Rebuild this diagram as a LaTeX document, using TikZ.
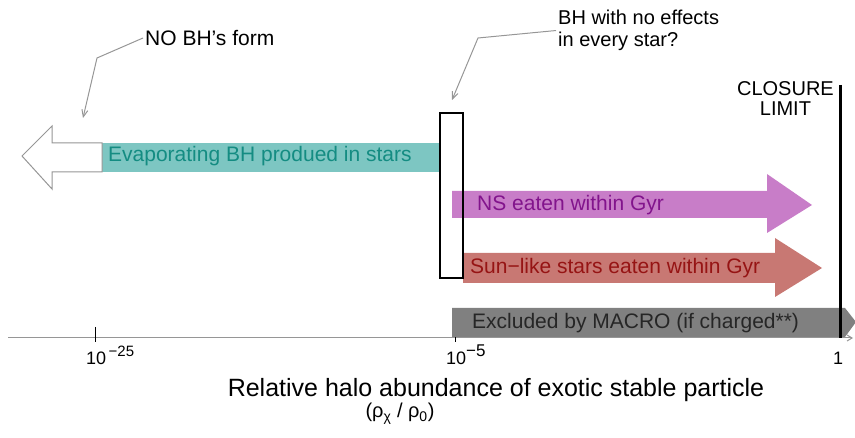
\documentclass[tikz,border=0pt]{standalone}
\usepackage{fontspec}
\setmainfont{Liberation Sans}
\usetikzlibrary{arrows.meta, positioning}
\definecolor{evapteal}{RGB}{125, 198, 194}
\definecolor{evaptext}{RGB}{20, 140, 130}
\definecolor{nsmagenta}{RGB}{200, 125, 200}
\definecolor{nstext}{RGB}{130, 20, 140}
\definecolor{sunred}{RGB}{200, 120, 115}
\definecolor{suntext}{RGB}{150, 20, 20}
\definecolor{macrogray}{RGB}{128, 128, 128}
\definecolor{notegray}{RGB}{150, 150, 150}

\begin{document}
\begin{tikzpicture}[x=1pt, y=-1pt, font=\fontsize{21}{22}\selectfont,
    note/.style={notegray, line width=1pt, -{Straight Barb[length=7pt, width=6pt]}},
    band/.style={anchor=west, inner sep=0pt}]
  \useasboundingbox (0,0) rectangle (855,438);

  % --- axis and ticks ---
  \draw[notegray, line width=1pt, -{Straight Barb[length=5pt, width=6pt]}] (8,338) -- (853,338);
  \draw[line width=1pt] (95,327) -- (95,342);
  \draw[line width=1pt] (455,330) -- (455,342);
  \node[font=\fontsize{18}{18}\selectfont, anchor=base west, inner sep=0pt] (tickA) at (86,365) {10\raisebox{8pt}{\fontsize{15}{15}\selectfont\,−25}};
  \node[font=\fontsize{18}{18}\selectfont, anchor=base west, inner sep=0pt] (tickB) at (446,365) {10\raisebox{8pt}{\fontsize{17}{17}\selectfont −5}};
  \node[font=\fontsize{18}{18}\selectfont, anchor=base, inner sep=0pt] (tickC) at (838,365) {1};
  \node[font=\fontsize{25}{25}\selectfont, anchor=base, inner sep=0pt] (axtitle) at (496,397) {Relative halo abundance of exotic stable particle};
  \node[font=\fontsize{20}{20}\selectfont, anchor=base, inner sep=0pt] (axunit) at (400,418) {(ρ\textsubscript{χ} / ρ\textsubscript{0})};

  % --- excluded by MACRO ---
  \fill[macrogray] (452,308) -- (845,308) -- (856,322) -- (845,337) -- (452,337) -- cycle;
  \node[band, text=black!85] (macro) at (472,323) {Excluded by MACRO (if charged**)};

  % --- evaporating BH (left) ---
  \fill[evapteal] (102,143) rectangle (440,172);
  \draw[notegray, fill=white, line width=1pt] (102,143) -- (52,143) -- (52,126) -- (22,156) -- (52,189) -- (52,172) -- (102,172) -- cycle;
  \node[band, text=evaptext] (evap) at (108,156) {Evaporating BH produed in stars};

  % --- NS eaten ---
  \fill[nsmagenta] (452,191) -- (767,191) -- (767,174) -- (812,205) -- (767,233) -- (767,218) -- (452,218) -- cycle;
  \node[band, text=nstext] (ns) at (477,205) {NS eaten within Gyr};

  % --- Sun-like stars eaten ---
  \fill[sunred] (463,253) -- (775,253) -- (775,238) -- (822,268) -- (775,297) -- (775,283) -- (463,283) -- cycle;
  \node[band, text=suntext] (sun) at (470,268) {Sun−like stars eaten within Gyr};

  % --- window with no effects ---
  \draw[line width=1.5pt] (440,113) rectangle (463,278);

  % --- closure limit ---
  \draw[line width=3pt] (840,85) -- (840,338);
  \node[anchor=north east, align=center, inner sep=0pt, font=\fontsize{20}{20}\selectfont] (closure) at (834,81) {CLOSURE\\LIMIT};

  % --- annotations ---
  \node[anchor=west, inner sep=2pt] (noBH) at (143,38) {NO BH’s form};
  \node[anchor=north west, align=left, inner sep=2pt, font=\fontsize{20}{22}\selectfont] (noeff) at (556,8) {BH with no effects\\in every star?};
  \draw[note] (noBH.west) -- (97,58) -- (83,118);
  \draw[note] (noeff.west) -- (478,38) -- (452,100);
\end{tikzpicture}
\end{document}
